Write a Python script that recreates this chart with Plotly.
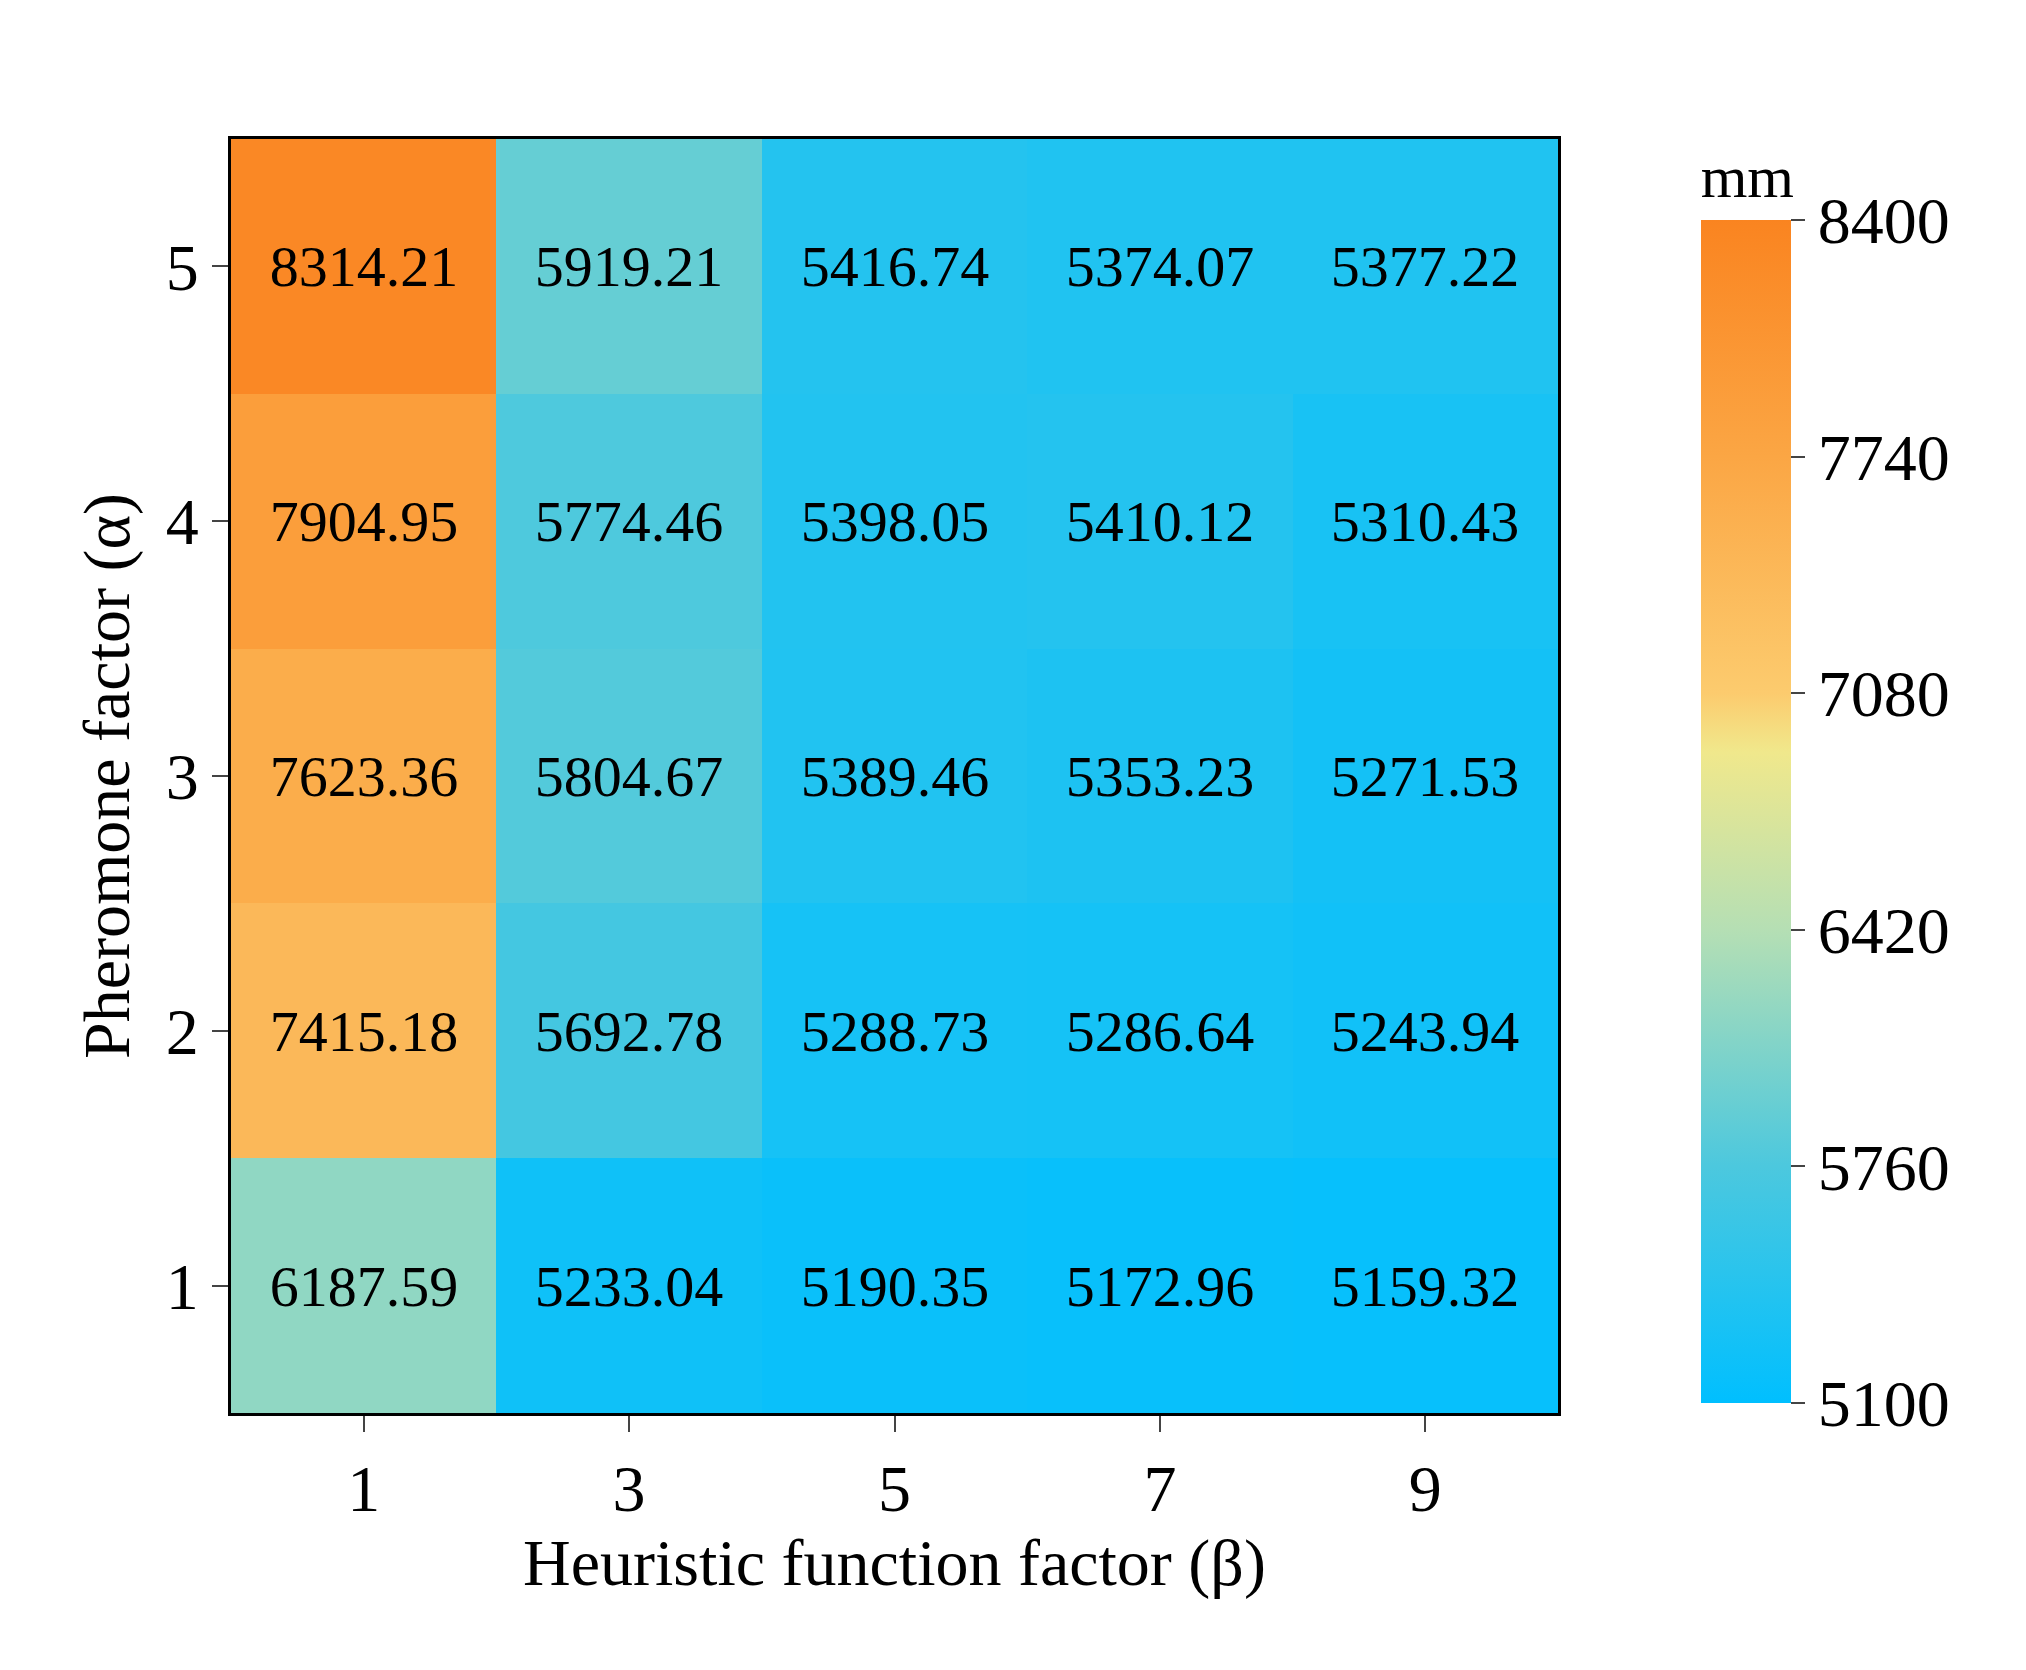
import plotly.graph_objects as go

beta = [1, 3, 5, 7, 9]
alpha = [1, 2, 3, 4, 5]
z = [
    [6187.59, 5233.04, 5190.35, 5172.96, 5159.32],
    [7415.18, 5692.78, 5288.73, 5286.64, 5243.94],
    [7623.36, 5804.67, 5389.46, 5353.23, 5271.53],
    [7904.95, 5774.46, 5398.05, 5410.12, 5310.43],
    [8314.21, 5919.21, 5416.74, 5374.07, 5377.22],
]
cbar_ticks = [5100, 5760, 6420, 7080, 7740, 8400]

colorscale = [
    [0.0, "#00BFFF"],
    [0.2, "#4CC8DE"],
    [0.4, "#B5DFB4"],
    [0.55, "#F0E88C"],
    [0.6, "#FCCB6E"],
    [0.8, "#FBA644"],
    [1.0, "#FA8420"],
]

font = "Liberation Serif"
text = [[f"{v:.2f}" for v in row] for row in z]

fig = go.Figure(go.Heatmap(
    x=beta, y=alpha, z=z, zmin=5100, zmax=8400,
    colorscale=colorscale, xgap=0, ygap=0,
    text=text, texttemplate="%{text}",
    textfont=dict(family=font, size=58, color="black"),
    colorbar=dict(
        x=1.1, xanchor="left", y=0.5, len=1.0, thickness=90,
        tickvals=cbar_ticks, ticks="outside", ticklen=14, tickwidth=2,
        outlinewidth=0,
        tickfont=dict(family=font, size=66, color="black"),
        title=dict(text="mm", side="top", font=dict(family=font, size=60, color="black")),
    ),
))
fig.update_xaxes(
    tickvals=beta, ticks="outside", ticklen=16, tickwidth=2,
    showline=True, mirror=True, linecolor="black", linewidth=3,
    tickfont=dict(family=font, size=66, color="black"),
    title=dict(text="Heuristic function factor (β)", font=dict(family=font, size=66, color="black")),
)
fig.update_yaxes(
    tickvals=alpha, ticks="outside", ticklen=16, tickwidth=2,
    showline=True, mirror=True, linecolor="black", linewidth=3,
    tickfont=dict(family=font, size=66, color="black"),
    title=dict(text="Pheromone factor (α)", font=dict(family=font, size=66, color="black")),
)
fig.update_layout(
    width=2026, height=1670, plot_bgcolor="white", paper_bgcolor="white",
    margin=dict(l=223, r=476, t=131, b=265),
)
fig.write_html("out.html")
